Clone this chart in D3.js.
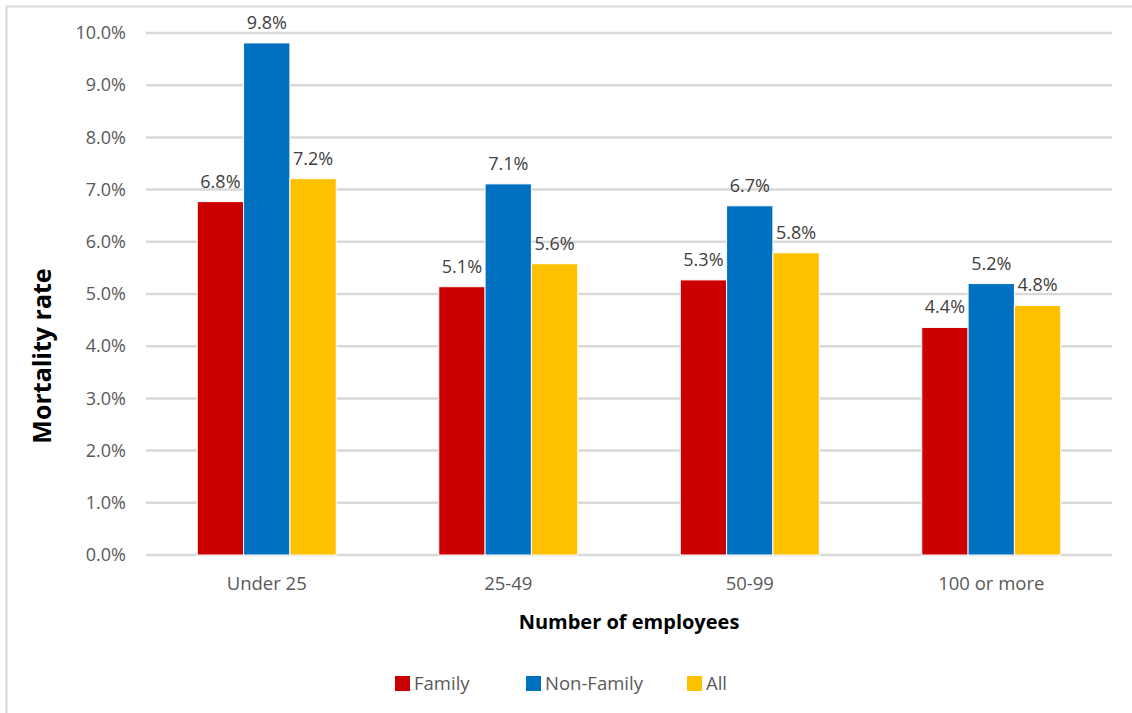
<!DOCTYPE html>
<html>
<head>
<meta charset="utf-8">
<script src="https://cdn.jsdelivr.net/npm/d3@7"></script>
<style>
  body { margin: 0; background: #fff; }
  svg { display: block; font-family: "Open Sans", "Noto Sans", sans-serif; }
</style>
</head>
<body>
<svg id="chart"></svg>
<script>
// chart data
const categories = ['Under 25', '25-49', '50-99', '100 or more'];
const seriesNames = ['Family', 'Non-Family', 'All'];
const familyRates = [0.0677, 0.0514, 0.0527, 0.0436];
const nonFamilyRates = [0.0981, 0.0711, 0.0669, 0.0520];
const allRates = [0.0721, 0.0558, 0.0579, 0.0478];
const yTicks = [0, 0.01, 0.02, 0.03, 0.04, 0.05, 0.06, 0.07, 0.08, 0.09, 0.10];

const colors = ['#cc0000', '#0070c0', '#ffc000'];

const width = 1132, height = 713;
const margin = { top: 33, right: 20, bottom: 158, left: 146 };
const innerW = 1112 - margin.left;
const innerH = 555 - margin.top;

const svg = d3.select('#chart')
    .attr('width', width)
    .attr('height', height);

// outer frame (only left/top edges visible in the original)
svg.append('rect')
    .attr('x', 6.5).attr('y', 6.5)
    .attr('width', 1200).attr('height', 800)
    .attr('fill', 'none')
    .attr('stroke', '#d9d9d9')
    .attr('stroke-width', 2);

const chart = svg.append('g')
    .attr('transform', `translate(${margin.left},${margin.top})`);

// build rows for grouping
const rows = categories.map((c, i) => ({
    category: c,
    values: [familyRates[i], nonFamilyRates[i], allRates[i]]
}));

const x0 = d3.scaleBand()
    .domain(categories)
    .range([0, innerW])
    .padding(0);

const groupW = 139;
const x1 = d3.scaleBand()
    .domain(seriesNames)
    .range([(x0.bandwidth() - groupW) / 2, (x0.bandwidth() + groupW) / 2])
    .padding(0);

const y = d3.scaleLinear()
    .domain([0, 0.10])
    .range([innerH, 0]);

// gridlines
chart.append('g')
    .selectAll('line')
    .data(yTicks)
    .join('line')
    .attr('x1', 0)
    .attr('x2', innerW)
    .attr('y1', d => y(d))
    .attr('y2', d => y(d))
    .attr('stroke', '#d9d9d9')
    .attr('stroke-width', 2.5);

// y axis labels
const yAxis = d3.axisLeft(y)
    .tickValues(yTicks)
    .tickFormat(d3.format('.1%'))
    .tickSize(0)
    .tickPadding(20);

chart.append('g')
    .call(yAxis)
    .call(g => g.select('.domain').remove())
    .call(g => g.selectAll('text')
        .attr('fill', '#595959')
        .style('font-size', '18px')
        .style('font-family', '"Open Sans", sans-serif'));

// x axis labels
const xAxis = d3.axisBottom(x0)
    .tickSize(0)
    .tickPadding(22);

chart.append('g')
    .attr('transform', `translate(0,${innerH})`)
    .call(xAxis)
    .call(g => g.select('.domain').remove())
    .call(g => g.selectAll('text')
        .attr('fill', '#595959')
        .style('font-size', '18.5px')
        .style('font-family', '"Open Sans", sans-serif'));

// bars
const groups = chart.selectAll('.group')
    .data(rows)
    .join('g')
    .attr('class', 'group')
    .attr('transform', d => `translate(${x0(d.category)},0)`);

groups.selectAll('rect')
    .data(d => d.values.map((v, i) => ({ key: seriesNames[i], value: v, i })))
    .join('rect')
    .attr('x', d => x1(d.key))
    .attr('y', d => y(d.value))
    .attr('width', x1.bandwidth())
    .attr('height', d => innerH - y(d.value))
    .attr('fill', d => colors[d.i])
    .attr('stroke', '#fff')
    .attr('stroke-width', 1);

// data labels
groups.selectAll('text.label')
    .data(d => d.values.map((v, i) => ({ key: seriesNames[i], value: v })))
    .join('text')
    .attr('class', 'label')
    .attr('x', d => x1(d.key) + x1.bandwidth() / 2)
    .attr('y', d => y(d.value) - 14)
    .attr('text-anchor', 'middle')
    .attr('fill', '#404040')
    .style('font-size', '18px')
    .text(d => d3.format('.1%')(d.value));

// axis titles
svg.append('text')
    .attr('transform', `translate(51,356) rotate(-90)`)
    .attr('text-anchor', 'middle')
    .attr('fill', '#000')
    .style('font-size', '25px')
    .style('font-weight', '700')
    .text('Mortality rate');

svg.append('text')
    .attr('x', 629)
    .attr('y', 629)
    .attr('text-anchor', 'middle')
    .attr('fill', '#000')
    .style('font-size', '20px')
    .style('font-weight', '700')
    .text('Number of employees');

// legend
const legendX = [395, 526, 687];
const legend = svg.append('g')
    .selectAll('g')
    .data(seriesNames)
    .join('g')
    .attr('transform', (d, i) => `translate(${legendX[i]},676)`);

legend.append('rect')
    .attr('width', 15)
    .attr('height', 15)
    .attr('fill', (d, i) => colors[i]);

legend.append('text')
    .attr('x', 19)
    .attr('y', 14)
    .attr('fill', '#595959')
    .style('font-size', '18.5px')
    .text(d => d);
</script>
</body>
</html>
